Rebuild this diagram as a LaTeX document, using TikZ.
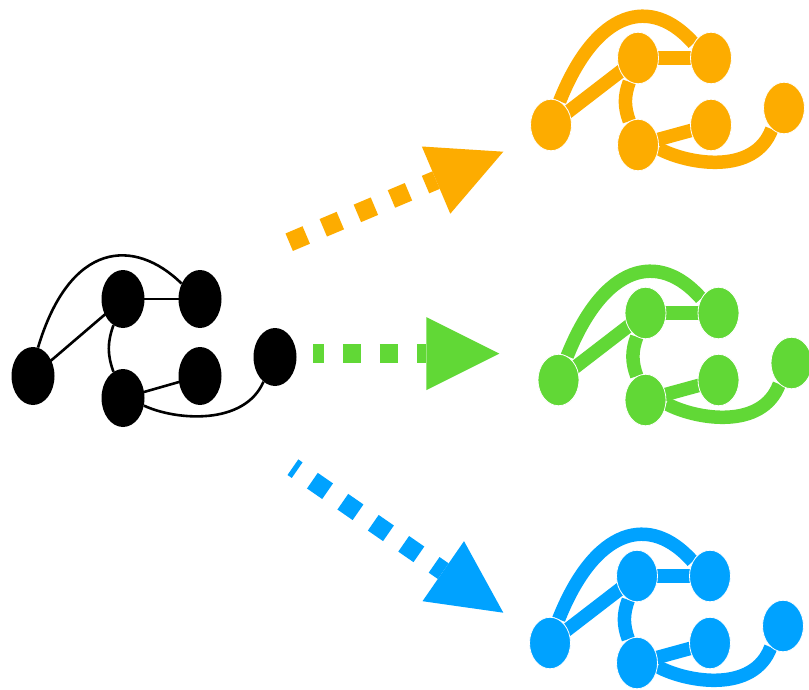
\documentclass[tikz,border=0pt]{standalone}
\usetikzlibrary{shapes.geometric,calc,backgrounds}
\definecolor{gorange}{HTML}{FDAC00}
\definecolor{ggreen}{HTML}{61D836}
\definecolor{gblue}{HTML}{00A2FF}
\tikzset{
  bnode/.style={ellipse, fill=black, minimum width=43pt, minimum height=58pt, inner sep=0pt},
  cnode/.style={ellipse, fill=#1, draw=white, line width=0.8pt, minimum width=41pt, minimum height=51.5pt, inner sep=0pt},
  bedge/.style={draw=black, line width=2.6pt},
  cedge/.style={draw=#1, line width=13.5pt},
  dashline/.style={draw=#1, line width=19pt, dash pattern=on 18.5pt off 18.5pt},
}
\newcommand\colgraph[3]{%
  \begin{scope}[shift={#2}]
    \node[cnode=#3] (#1A) at (0,0) {};
    \node[cnode=#3] (#1B) at (87,-67) {};
    \node[cnode=#3] (#1C) at (160,-67) {};
    \node[cnode=#3] (#1D) at (87,20) {};
    \node[cnode=#3] (#1E) at (160,0) {};
    \node[cnode=#3] (#1F) at (233,-17) {};
  \end{scope}
  \begin{pgfonlayer}{background}
    \draw[cedge=#3] (#1A.center) -- (#1B.center);
    \draw[cedge=#3] (#1B.center) -- (#1C.center);
    \draw[cedge=#3] (#1D.center) -- (#1E.center);
    \draw[cedge=#3] (#1A.70) .. controls +(36.4,-91.4) and +(-42.9,-48.7) .. (#1C.140);
    \draw[cedge=#3] (#1B.250) to[bend right=20] (#1D.110);
    \draw[cedge=#3] (#1D.-10) .. controls +(30,16) and +(-17,46) .. (#1F.240);
  \end{pgfonlayer}
}
\begin{document}
\begin{tikzpicture}[x=1pt,y=-1pt]
\useasboundingbox (0,0) rectangle (809,690);
\begin{pgfonlayer}{background}
  \fill[white] (0,0) rectangle (809,690);
\end{pgfonlayer}

% black graph
\node[bnode] (A) at (33,376) {};
\node[bnode] (B) at (123,299) {};
\node[bnode] (C) at (200,299) {};
\node[bnode] (D) at (123,398) {};
\node[bnode] (E) at (200,376) {};
\node[bnode] (F) at (275,357) {};
\begin{pgfonlayer}{background}
  \draw[bedge] (A.center) -- (B.center);
  \draw[bedge] (B.center) -- (C.center);
  \draw[bedge] (D.center) -- (E.center);
  \draw[bedge] (A.80) .. controls +(32,-107) and +(-47,-46) .. (C.140);
  \draw[bedge] (B.250) to[bend right=20] (D.110);
  \draw[bedge] (D.-20) .. controls +(32,15) and +(-19,44) .. (F.245);
\end{pgfonlayer}

% coloured graphs
\colgraph{o}{(551,125)}{gorange}
\colgraph{g}{(558.5,380)}{ggreen}
\colgraph{b}{(550,643)}{gblue}

% orange arrow
\coordinate (os) at (289.2,242.2);
\coordinate (ot) at (503.3,151.7);
\coordinate (ob) at ($(ot)!73pt!(os)$);
\draw[dashline=gorange] (os) -- (ob);
\fill[gorange] (ot) -- ($(ob)!36.5pt!90:(ot)$) -- ($(ob)!36.5pt!-90:(ot)$) -- cycle;

% green arrow
\coordinate (gs) at (313.3,353.6);
\coordinate (gt) at (499.3,353.6);
\coordinate (gb) at ($(gt)!73pt!(gs)$);
\draw[dashline=ggreen, dash phase=7.5pt] (gs) -- (gb);
\fill[ggreen] (gt) -- ($(gb)!36.5pt!90:(gt)$) -- ($(gb)!36.5pt!-90:(gt)$) -- cycle;

% blue arrow
\coordinate (bs) at (292.9,467.2);
\coordinate (bt) at (503.3,612.7);
\coordinate (bb) at ($(bt)!73pt!(bs)$);
\draw[dashline=gblue, dash phase=13.3pt] (bs) -- (bb);
\fill[gblue] (bt) -- ($(bb)!36.5pt!90:(bt)$) -- ($(bb)!36.5pt!-90:(bt)$) -- cycle;
\end{tikzpicture}
\end{document}
